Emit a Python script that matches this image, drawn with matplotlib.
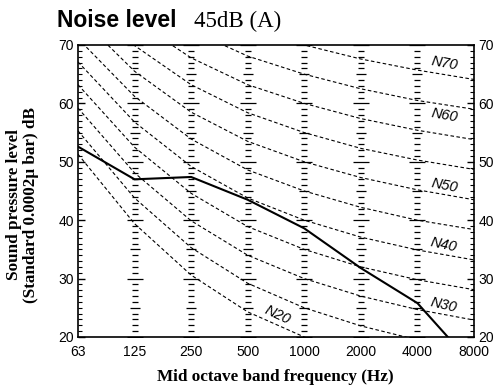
import numpy as np
import matplotlib; matplotlib.use("Agg")
import matplotlib.pyplot as plt
from matplotlib.ticker import MultipleLocator

bands = ['63', '125', '250', '500', '1000', '2000', '4000', '8000']

# NR curves, dB at each octave band
nr20 = [51.3, 39.4, 30.6, 24.3, 20.0, 16.8, 14.4, 12.6]
nr25 = [55.3, 43.8, 35.3, 29.2, 25.0, 21.9, 19.5, 17.8]
nr30 = [59.2, 48.1, 39.9, 34.0, 30.0, 27.0, 24.7, 22.9]
nr35 = [63.2, 52.5, 44.6, 38.9, 35.0, 32.0, 29.8, 28.1]
nr40 = [67.1, 56.8, 49.2, 43.8, 40.0, 37.1, 34.9, 33.2]
nr45 = [71.1, 61.2, 53.9, 48.6, 45.0, 42.2, 40.0, 38.4]
nr50 = [75.0, 65.5, 58.5, 53.5, 50.0, 47.3, 45.2, 43.5]
nr55 = [79.0, 69.9, 63.2, 58.4, 55.0, 52.3, 50.3, 48.7]
nr60 = [82.9, 74.2, 67.8, 63.2, 60.0, 57.4, 55.4, 53.8]
nr65 = [86.9, 78.6, 72.5, 68.1, 65.0, 62.5, 60.5, 59.0]
nr70 = [90.8, 82.9, 77.1, 73.0, 70.0, 67.6, 65.7, 64.1]
nr_curves = [nr20, nr25, nr30, nr35, nr40, nr45, nr50, nr55, nr60, nr65, nr70]

# measured spectrum
measured = [52.6, 47.0, 47.4, 43.5, 38.6, 31.8, 25.8, 15.0]

# curve labels: text, x (band index), y (dB), rotation
lbl_text = ['N70', 'N60', 'N50', 'N40', 'N30', 'N20']
lbl_x = [6.47, 6.47, 6.47, 6.47, 6.47, 3.52]
lbl_y = [66.9, 58.0, 46.0, 35.8, 25.5, 23.8]
lbl_rot = [-10, -10, -11, -12, -13, -25]

plt.rcParams['font.family'] = ['Liberation Sans', 'DejaVu Sans']

fig = plt.figure(figsize=(4.94, 3.86), dpi=100)
ax = fig.add_axes([78/494, 1-337/386, 396/494, 292/386])
x = np.arange(len(bands))

for c in nr_curves:
    ax.plot(x, c, color='black', lw=0.8, dashes=(3.2, 2.2))

ax.plot(x, measured, color='black', lw=1.5)

# octave scales
db = np.arange(20, 71)
for xi in x[1:-1]:
    small = db[db % 5 != 0]
    mid = db[(db % 5 == 0) & (db % 10 != 0)]
    big = db[db % 10 == 0]
    ax.plot(np.full(len(small), xi), small, ls='none', marker='_', ms=3.8, mew=0.9, color='black')
    ax.plot(np.full(len(mid), xi), mid, ls='none', marker='_', ms=6.5, mew=0.9, color='black')
    ax.plot(np.full(len(big), xi), big, ls='none', marker='_', ms=11, mew=0.9, color='black')

for t, lx, ly, r in zip(lbl_text, lbl_x, lbl_y, lbl_rot):
    ax.text(lx, ly, t, fontsize=10.5, style='italic', rotation=r, ha='center', va='center',
            rotation_mode='anchor')

ax.set_xlim(0, 7)
ax.set_ylim(20, 70)
ax.set_xticks(x)
ax.set_xticklabels(bands, fontsize=10)
ax.tick_params(axis='x', length=0, pad=6)
ax.yaxis.set_major_locator(MultipleLocator(10))
ax.yaxis.set_minor_locator(MultipleLocator(1))
ax.tick_params(axis='y', which='major', direction='in', length=5, width=1, labelsize=10,
               left=True, right=True, labelleft=True, labelright=True, pad=3)
ax.tick_params(axis='y', which='minor', direction='in', length=2.8, width=0.8, left=True, right=True)
for s in ax.spines.values():
    s.set_linewidth(1.2)

fig.text(275/494, 1-377/386, 'Mid octave band frequency (Hz)', family='Liberation Serif',
         weight='bold', fontsize=12.3, ha='center', va='center')
fig.text(14/494, 1-205/386, 'Sound pressure level', family='Liberation Serif', weight='bold',
         fontsize=12.3, rotation=90, ha='center', va='center')
fig.text(31/494, 1-205/386, '(Standard 0.0002\u03bc bar) dB', family='Liberation Serif',
         weight='bold', fontsize=12.3, rotation=90, ha='center', va='center')

fig.text(57/494, 1-27/386, 'Noise level', weight='bold', fontsize=16.5, ha='left', va='baseline')
fig.text(194/494, 1-27/386, '45dB (A)', family='Liberation Serif', fontsize=16.5,
         ha='left', va='baseline')

fig.savefig('out.png', dpi=100)
